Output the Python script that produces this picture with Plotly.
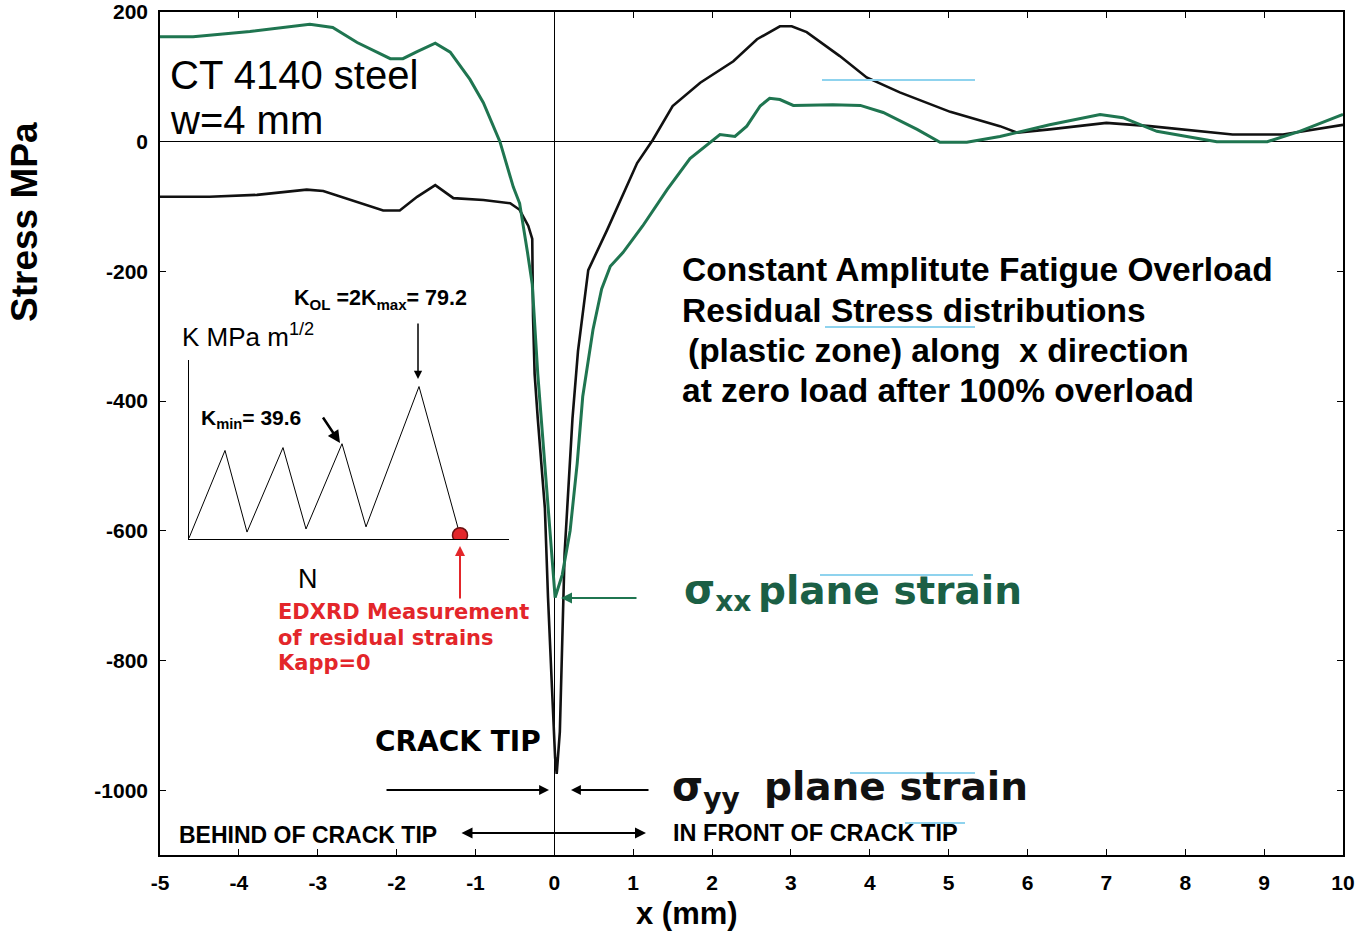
import plotly.graph_objects as go

# ---------------- data ----------------
sxx_x = [-5, -4.58, -3.86, -3.10, -2.81, -2.50, -2.08, -1.92, -1.74, -1.51, -1.32, -1.07, -0.90,
         -0.69, -0.52, -0.44, -0.34, -0.28, -0.21, -0.12, -0.06, 0.01, 0.10, 0.20, 0.29, 0.36,
         0.49, 0.60, 0.71, 0.87, 1.12, 1.43, 1.72, 2.01, 2.10, 2.29, 2.44, 2.61, 2.73, 2.86,
         3.03, 3.53, 3.88, 4.17, 4.60, 4.89, 5.23, 5.65, 5.87, 6.28, 6.92, 7.21, 7.64, 8.40,
         9.04, 9.45, 10.0]
sxx_y = [162, 162, 170, 181, 176, 153, 128, 128, 139, 152, 138, 96, 60,
         0, -70, -95, -171, -220, -358, -496, -600, -703, -668, -600, -496, -393,
         -290, -227, -192, -171, -130, -74, -26, 3, 11, 8, 24, 55, 67, 65,
         56, 57, 56, 45, 19, -1, -1, 8, 14, 26, 42, 37, 16, 0,
         0, 16, 42]

syy_x = [-5, -4.37, -3.77, -3.14, -2.93, -2.50, -2.17, -1.96, -1.74, -1.51, -1.28, -0.90, -0.56,
         -0.44, -0.33, -0.28, -0.27, -0.25, -0.21, -0.12, -0.08, -0.03, 0.01, 0.03, 0.07, 0.13,
         0.23, 0.30, 0.43, 0.67, 0.87, 1.05, 1.25, 1.50, 1.85, 2.27, 2.57, 2.86, 3.01, 3.20,
         3.62, 3.96, 4.38, 5.02, 5.65, 5.87, 6.28, 7.00, 7.55, 8.60, 9.24, 10.0]
syy_y = [-85, -85, -82, -74, -76, -93, -106, -106, -85, -67, -87, -90, -95,
         -105, -130, -150, -270, -358, -427, -565, -703, -842, -950, -975, -910, -635,
         -427, -323, -198, -136, -82, -33, 3, 55, 91, 124, 158, 178, 178, 169,
         132, 99, 76, 46, 24, 14, 19, 29, 24, 11, 11, 26]

# inset: loading history K (MPa m^1/2) vs N
k_n = [0, 3.6, 5.8, 9.4, 11.7, 15.3, 17.7, 23.0, 27.1]
k_val = [0.5, 46, 3.6, 47.5, 5.2, 49.5, 6.3, 79.2, 2]

x_ticks = list(range(-5, 11))
x_ticktext = [str(v) for v in x_ticks]
y_ticks = [-1000, -800, -600, -400, -200, 0, 200]
y_ticktext = [str(v) for v in y_ticks]

GREEN = "#1f7550"
GREEN_TXT = "#1b5f45"
RED = "#e3262a"

# plot-area geometry in pixels (for placing decorations)
L, R, T, B = 160, 1343, 12, 855
W, H = R - L, B - T


def P(px, py):
    return (px - L) / W, (B - py) / H


fig = go.Figure()
fig.add_trace(go.Scatter(x=syy_x, y=syy_y, mode="lines",
                         line=dict(color="#111111", width=2.6), showlegend=False))
fig.add_trace(go.Scatter(x=sxx_x, y=sxx_y, mode="lines",
                         line=dict(color=GREEN, width=3), showlegend=False))

# inset
fig.add_trace(go.Scatter(x=k_n, y=k_val, mode="lines", xaxis="x2", yaxis="y2",
                         line=dict(color="black", width=1), showlegend=False))
fig.add_trace(go.Scatter(x=[k_n[-1]], y=[k_val[-1]], mode="markers", xaxis="x2", yaxis="y2",
                         marker=dict(size=15, color=RED, line=dict(color="#6a1010", width=1.5)),
                         showlegend=False))

tickfont = dict(family="Liberation Sans", size=21, color="black", weight="bold")
x2d = (P(189, 0)[0], P(509, 0)[0])
y2d = (P(0, 539)[1], P(0, 360)[1])

fig.update_layout(
    width=1366, height=932,
    margin=dict(l=L, r=1366 - R, t=T, b=932 - B, autoexpand=False),
    paper_bgcolor="white", plot_bgcolor="white",
    xaxis=dict(range=[-5, 10], tickvals=x_ticks, ticktext=x_ticktext, ticks="inside", ticklen=6,
               tickwidth=1.2, tickcolor="black", mirror="ticks", showline=True, linecolor="black",
               linewidth=1.5, showgrid=False, zeroline=True, zerolinecolor="black",
               zerolinewidth=1, tickfont=tickfont, ticklabelstandoff=8, automargin=False),
    yaxis=dict(range=[-1100, 200], tickvals=y_ticks, ticktext=y_ticktext, ticks="inside",
               ticklen=6, tickwidth=1.2, tickcolor="black", mirror="ticks", showline=True,
               linecolor="black", linewidth=1.5, showgrid=False, zeroline=True,
               zerolinecolor="black", zerolinewidth=1, tickfont=tickfont, ticklabelstandoff=6,
               automargin=False),
    xaxis2=dict(domain=list(x2d), range=[0, 32], anchor="y2", showline=True, linecolor="black",
                linewidth=1, showgrid=False, zeroline=False, showticklabels=False, ticks="",
                automargin=False),
    yaxis2=dict(domain=list(y2d), range=[0, 93], anchor="x2", showline=True, linecolor="black",
                linewidth=1, showgrid=False, zeroline=False, showticklabels=False, ticks="",
                automargin=False),
)

ann = []


def text(px, py, s, size, color="black", family="Liberation Sans", bold=False,
         xanchor="left", angle=0):
    x, y = P(px, py)
    ann.append(dict(x=x, y=y, xref="paper", yref="paper", text=s, showarrow=False,
                    xanchor=xanchor, yanchor="middle", textangle=angle,
                    font=dict(family=family, size=size, color=color,
                              weight="bold" if bold else "normal")))


def arrow(hx, hy, tx, ty, color="black", width=1.5, head=2, size=1.0, side="end"):
    x, y = P(hx, hy)
    ann.append(dict(x=x, y=y, xref="paper", yref="paper", text="", showarrow=True,
                    ax=tx - hx, ay=ty - hy, arrowcolor=color, arrowwidth=width,
                    arrowhead=head, arrowsize=size, arrowside=side, standoff=0,
                    startarrowhead=head, startarrowsize=size))


text(168, 75, "CT 4140 steel", 40)
text(168, 120, "w=4 mm", 40)

text(680, 269, "Constant Amplitute Fatigue Overload", 33.5, bold=True)
text(680, 310, "Residual Stress distributions", 33.5, bold=True)
text(686, 350, "(plastic zone) along&nbsp;&nbsp;x direction", 33.5, bold=True)
text(680, 390, "at zero load after 100% overload", 33.5, bold=True)

text(682, 592, "σ<sub>xx</sub>", 40, color=GREEN_TXT, family="DejaVu Sans", bold=True)
text(756, 590, "plane strain", 39, color=GREEN_TXT, family="DejaVu Sans", bold=True)
text(670, 789, "σ<sub>yy</sub>", 40, color="#111111", family="DejaVu Sans", bold=True)
text(762, 786, "plane strain", 39, color="#111111", family="DejaVu Sans", bold=True)

text(373, 741, "CRACK TIP", 28, family="DejaVu Sans", bold=True)
text(177, 835, "BEHIND OF CRACK TIP", 23, bold=True)
text(671, 833, "IN FRONT OF CRACK TIP", 23.5, bold=True)

text(180, 335, "K MPa m<sup>1/2</sup>", 26)
text(292, 299, "K<sub>OL</sub> =2K<sub>max</sub>= 79.2", 21.5, bold=True)
text(199, 419, "K<sub>min</sub>= 39.6", 21, bold=True)
text(296, 579, "N", 27)

text(276, 612, "EDXRD Measurement", 21, color=RED, family="DejaVu Sans", bold=True)
text(276, 638, "of residual strains", 21, color=RED, family="DejaVu Sans", bold=True)
text(276, 663, "Kapp=0", 21, color=RED, family="DejaVu Sans", bold=True)

text(25, 222, "Stress MPa", 37, bold=True, xanchor="center", angle=-90)
text(687, 913, "x (mm)", 31, bold=True, xanchor="center")

# arrows
arrow(561, 598, 638, 598, color=GREEN, width=2, head=2, size=1.1)
arrow(549, 790, 385, 790, width=1.8, head=2, size=1.1)
arrow(571, 790, 650, 790, width=1.8, head=2, size=1.1)
arrow(646, 833, 460, 833, width=2, head=2, size=1.1, side="end+start")
arrow(418, 379, 418, 322, width=1.5, head=2, size=1.1)
arrow(340, 443, 322, 416, width=2.5, head=2, size=1.0)
arrow(460, 546, 460, 600, color=RED, width=2, head=2, size=1.0)

fig.update_layout(annotations=ann)

# faint blue scan streaks of the original figure
shapes = []
for (x0, x1, yy) in [(822, 975, 80), (825, 975, 327), (820, 973, 575), (850, 975, 773), (905, 965, 823)]:
    a, b_ = P(x0, yy)
    c, _ = P(x1, yy)
    shapes.append(dict(type="line", xref="paper", yref="paper", x0=a, x1=c, y0=b_, y1=b_,
                       line=dict(color="#8fd3ee", width=2)))
fig.update_layout(shapes=shapes)

fig.write_html("out.html")
